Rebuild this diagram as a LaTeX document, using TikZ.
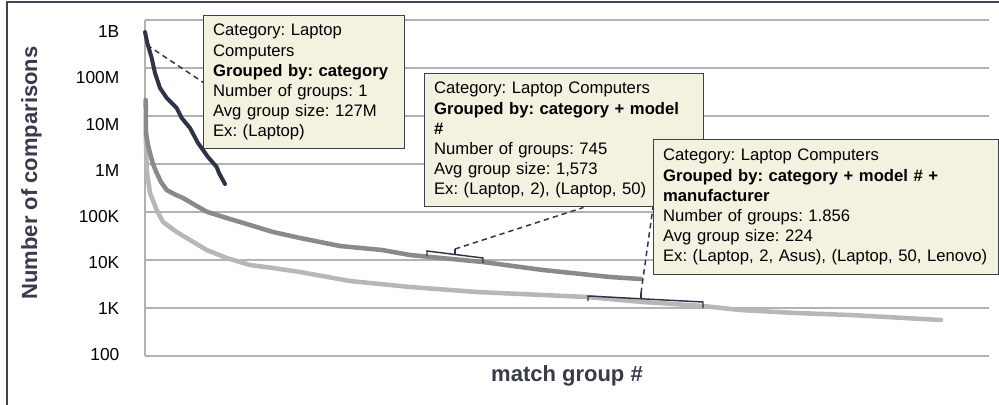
\documentclass[tikz,border=0pt]{standalone}
\usepackage{fontspec}
\setsansfont{Liberation Sans}
\usetikzlibrary{
  backgrounds
}
\definecolor{frameGray}{HTML}{404452}
\definecolor{gridGray}{HTML}{B2B2B2}
\definecolor{titleGray}{HTML}{383B48}
\definecolor{seriesDark}{HTML}{2F3347}
\definecolor{seriesMid}{HTML}{8A8A8A}
\definecolor{seriesLight}{HTML}{B7B7B7}
\definecolor{tipFill}{HTML}{F3F2E1}
\definecolor{tipBorder}{HTML}{3E3F44}
\frenchspacing

\begin{document}
\begin{tikzpicture}[
    x=0.75pt, y=-0.75pt,
    font=\sffamily,
    grid line/.style={
      draw=gridGray,
      line width=1.1pt
    },
    series line/.style={
      line width=3.4pt,
      line join=round,
      line cap=round
    },
    tick label/.style={
      anchor=east,
      font=\sffamily\fontsize{13}{15}\selectfont
    },
    axis title/.style={
      anchor=base,
      text=titleGray,
      font=\sffamily\bfseries\fontsize{16.5}{19}\selectfont
    },
    tooltip/.style={
      draw=tipBorder,
      fill=tipFill,
      line width=1.1pt,
      anchor=north west,
      align=left,
      inner xsep=7pt,
      font=\sffamily\fontsize{12.5}{15.1}\selectfont
    },
    group bracket/.style={
      draw=seriesDark,
      line width=1.1pt
    },
    callout line/.style={
      draw=seriesDark,
      line width=1.1pt,
      dash pattern=on 4pt off 3pt
    }
  ]
  \useasboundingbox (0,0) rectangle (999,404);

  % Frame
  \draw[frameGray, line width=1.2pt] (7,405) -- (7,2) -- (1000,2);

  % Axis labels
  \node[tick label] (t1B) at (124,32) {1B};
  \node[tick label] (t100M) at (124,78) {100M};
  \node[tick label] (t10M) at (124,125) {10M};
  \node[tick label] (t1M) at (124,171) {1M};
  \node[tick label] (t100K) at (124,217) {100K};
  \node[tick label] (t10K) at (124,263) {10K};
  \node[tick label] (t1K) at (124,309) {1K};
  \node[tick label] (t100) at (124,355) {100};
  \node[axis title, rotate=90] (ytitle) at (37,173) {Number of comparisons};
  \node[axis title] (xtitle) at (567,381) {match group \#};

  % Tooltips
  \node[tooltip, text width=136.75pt, minimum height=99.75pt] (category) at (203,15)
    {Category: Laptop\\Computers\\\textbf{Grouped by: category}\\Number of groups: 1\\Avg group size: 127M\\Ex: (Laptop)};
  \node[tooltip, text width=195.25pt, minimum height=99.75pt] (model) at (424,73)
    {Category: Laptop Computers\\\textbf{Grouped by: category + model}\\\textbf{\#}\\Number of groups: 745\\Avg group size: 1,573\\Ex: (Laptop, 2), (Laptop, 50)};
  \node[tooltip, text width=244.75pt, minimum height=101.25pt] (manufacturer) at (653,139)
    {Category: Laptop Computers\\\textbf{Grouped by: category + model \# +}\\\textbf{manufacturer}\\Number of groups: 1.856\\Avg group size: 224\\Ex: (Laptop, 2, Asus), (Laptop, 50, Lenovo)};

  \begin{scope}[on background layer]
    % Grid
    \draw[grid line] (145,20) -- (989,20);
    \draw[grid line] (145,68) -- (989,68);
    \draw[grid line] (145,116) -- (989,116);
    \draw[grid line] (145,164) -- (989,164);
    \draw[grid line] (145,212) -- (989,212);
    \draw[grid line] (145,260) -- (989,260);
    \draw[grid line] (145,308) -- (989,308);
    \draw[grid line] (145,356) -- (989,356);
    \draw[grid line] (145,20) -- (145,356);

    % Series
    \draw[series line, seriesLight] (145.7,133) -- (146.7,170) -- (150,193) -- (156.7,210) -- (163,222)
      -- (176.7,232) -- (190,240) -- (206.7,250) -- (226.7,258) -- (250,265) -- (273,268) -- (300,272)
      -- (350,281) -- (410,287) -- (477,292) -- (587,297) -- (643,302) -- (703,306) -- (740,310)
      -- (796,313) -- (850,315) -- (941,320);
    \draw[series line, seriesMid] (145.7,100) -- (146,133) -- (148,145) -- (150,153) -- (153,164)
      -- (156.7,173) -- (161,182) -- (166.7,190) -- (174,194) -- (183,198) -- (195,205) -- (206.7,211.7)
      -- (226.7,218) -- (250,225) -- (273,232) -- (300,238) -- (340,246) -- (382,250) -- (410,255)
      -- (483,262) -- (543,270) -- (610,277) -- (641,279);
    \draw[series line, seriesDark, line width=3pt] (145,32) -- (147.3,43) -- (151.7,58) -- (155,73)
      -- (160,88) -- (166.7,98) -- (176.7,108) -- (181.7,118) -- (190,128) -- (198,143) -- (208,157)
      -- (216.7,167) -- (219,173) -- (225,184);

    % Brackets
    \draw[group bracket] (427,256) -- (427,251) -- (483,258) -- (483,263);
    \draw[group bracket] (455,254.5) -- (455,249) coordinate (modelTick);
    \draw[group bracket] (588,301) -- (588,296) -- (703,302) -- (703,308);
    \draw[group bracket] (641,298.8) -- (641,293) coordinate (manuTick);
    \coordinate (catTick) at (147,45);

    % Callouts
    \draw[callout line] (catTick) -- (category.west);
    \draw[callout line] (modelTick) -- (model.-74);
    \draw[callout line] (manuTick) -- (manufacturer.west);
  \end{scope}
\end{tikzpicture}
\end{document}
